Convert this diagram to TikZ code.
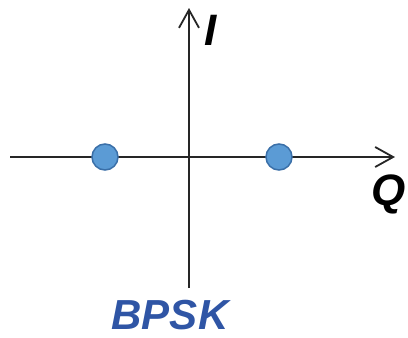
\documentclass[tikz,border=0pt]{standalone}
\usepackage{fontspec}
\setmainfont{Liberation Sans}
\usetikzlibrary{arrows.meta}
\definecolor{dotfill}{HTML}{5B9BD5}
\definecolor{dotedge}{HTML}{3A6FA8}
\definecolor{lblblue}{HTML}{2F55A5}
\tikzset{
  axis/.style={line width=1.8pt, draw=black!85, -{Straight Barb[length=18pt,width=20pt,line width=1.8pt]}},
  dot/.style={circle, fill=dotfill, draw=dotedge, line width=1.5pt, minimum size=26pt, inner sep=0pt},
  axlbl/.style={font=\fontsize{44}{44}\selectfont\bfseries\itshape, inner sep=0pt},
}
\begin{document}
\begin{tikzpicture}[x=1pt,y=-1pt]
\useasboundingbox (0,0) rectangle (408,338);
\coordinate (xl) at (10,157);
\coordinate (xr) at (395,157);
\coordinate (yb) at (189,288);
\coordinate (yt) at (189,8);
\draw[axis] (xl) -- (xr);
\draw[axis] (yb) -- (yt);
\node[dot] (s0) at (105,157) {};
\node[dot] (s1) at (279,157) {};
\node[axlbl, anchor=base] (I) at (211,45) {I};
\node[axlbl, anchor=base] (Q) at (389,205) {Q};
\node[font=\fontsize{42}{42}\selectfont\bfseries\itshape, text=lblblue, inner sep=0pt, anchor=base] (lbl) at (170,329) {BPSK};
\end{tikzpicture}
\end{document}
